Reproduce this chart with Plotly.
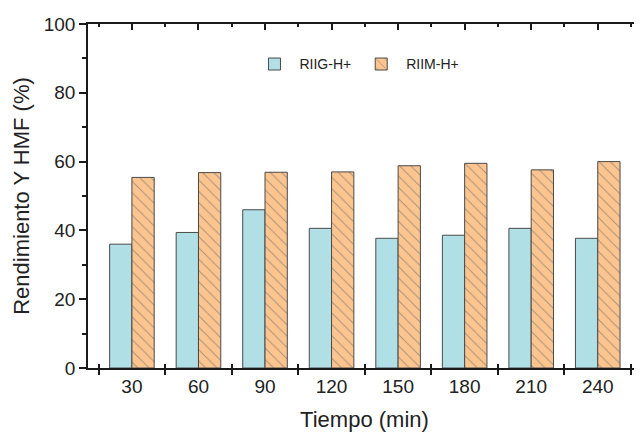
import plotly.graph_objects as go

categories = ["30", "60", "90", "120", "150", "180", "210", "240"]
riig = [36.0, 39.4, 46.0, 40.6, 37.7, 38.6, 40.6, 37.7]
riim = [55.4, 56.8, 56.9, 57.0, 58.8, 59.5, 57.6, 60.0]
yticks = [0, 20, 40, 60, 80, 100]

FONT = "Arial, Liberation Sans, sans-serif"
AX = "#1a1a1a"
XR = [-0.66, 7.65]
boundaries = [i - 0.5 for i in range(len(categories) + 1)]

fig = go.Figure()
fig.add_trace(go.Bar(
    x=categories, y=riig, name="RIIG-H+",
    marker=dict(color="#b0e0e6", line=dict(color="#4a4a4a", width=1)),
))
fig.add_trace(go.Bar(
    x=categories, y=riim, name="RIIM-H+",
    marker=dict(color="#fcc590", line=dict(color="#4a4a4a", width=1),
                pattern=dict(shape="\\", fgcolor="#5a5a5a", size=8, solidity=0.12)),
))
# helper traces so the mirrored top/right axes and the inner bottom ticks are drawn
fig.add_trace(go.Scatter(x=[None], y=[None], xaxis="x2", yaxis="y2",
                         showlegend=False, hoverinfo="skip"))
fig.add_trace(go.Scatter(x=[None], y=[None], xaxis="x3", yaxis="y",
                         showlegend=False, hoverinfo="skip"))

# the page body adds an 8px offset, so the figure is sized to fit the window
fig.update_layout(
    width=634, height=424,
    margin=dict(l=80, r=1, t=16, b=64, autoexpand=False),
    paper_bgcolor="white", plot_bgcolor="white",
    font=dict(family=FONT, color="#222"),
    barmode="group", bargap=0.33, bargroupgap=0,
    showlegend=True,
    legend=dict(orientation="h", x=0.292, y=0.929, xanchor="left", yanchor="top",
                font=dict(size=14, color="#222"), bgcolor="rgba(0,0,0,0)",
                itemwidth=40, traceorder="normal"),
    xaxis=dict(
        type="category", range=XR, tickson="boundaries", automargin=False,
        ticks="outside", ticklen=5, tickwidth=1.5, tickcolor=AX,
        showline=True, linecolor=AX, linewidth=1.5, showgrid=False, zeroline=False,
        tickfont=dict(size=19, color="#222"),
        title=dict(text="Tiempo (min)", font=dict(size=22, color="#222"), standoff=19),
    ),
    xaxis2=dict(
        overlaying="x", side="top", anchor="y", range=XR, automargin=False,
        tickvals=list(range(len(categories))), ticks="inside", ticklen=6, tickwidth=1.5,
        tickcolor=AX, showticklabels=False,
        minor=dict(tickvals=boundaries, ticks="inside", ticklen=3, tickwidth=1.5, tickcolor=AX),
        showline=True, linecolor=AX, linewidth=1.5, showgrid=False, zeroline=False,
    ),
    xaxis3=dict(
        overlaying="x", side="bottom", anchor="y", range=XR, automargin=False,
        tickvals=boundaries, ticks="inside", ticklen=4, tickwidth=1.5, tickcolor=AX,
        showticklabels=False, showline=False, showgrid=False, zeroline=False,
    ),
    yaxis=dict(
        range=[0, 100], tickvals=yticks, automargin=False,
        ticks="outside", ticklen=7, tickwidth=1.5, tickcolor=AX,
        minor=dict(dtick=10, ticks="outside", ticklen=4, tickwidth=1.5, tickcolor=AX),
        showline=True, linecolor=AX, linewidth=1.5, showgrid=False, zeroline=False,
        tickfont=dict(size=19, color="#222"),
        title=dict(text="Rendimiento Y HMF (%)", font=dict(size=22, color="#222"), standoff=8),
    ),
    yaxis2=dict(
        overlaying="y", side="right", anchor="x", range=[0, 100], tickvals=yticks,
        automargin=False,
        ticks="inside", ticklen=5, tickwidth=1.5, tickcolor=AX, showticklabels=False,
        minor=dict(dtick=10, ticks="inside", ticklen=3, tickwidth=1.5, tickcolor=AX),
        showline=True, linecolor=AX, linewidth=1.5, showgrid=False, zeroline=False,
    ),
)

fig.write_html("out.html")
